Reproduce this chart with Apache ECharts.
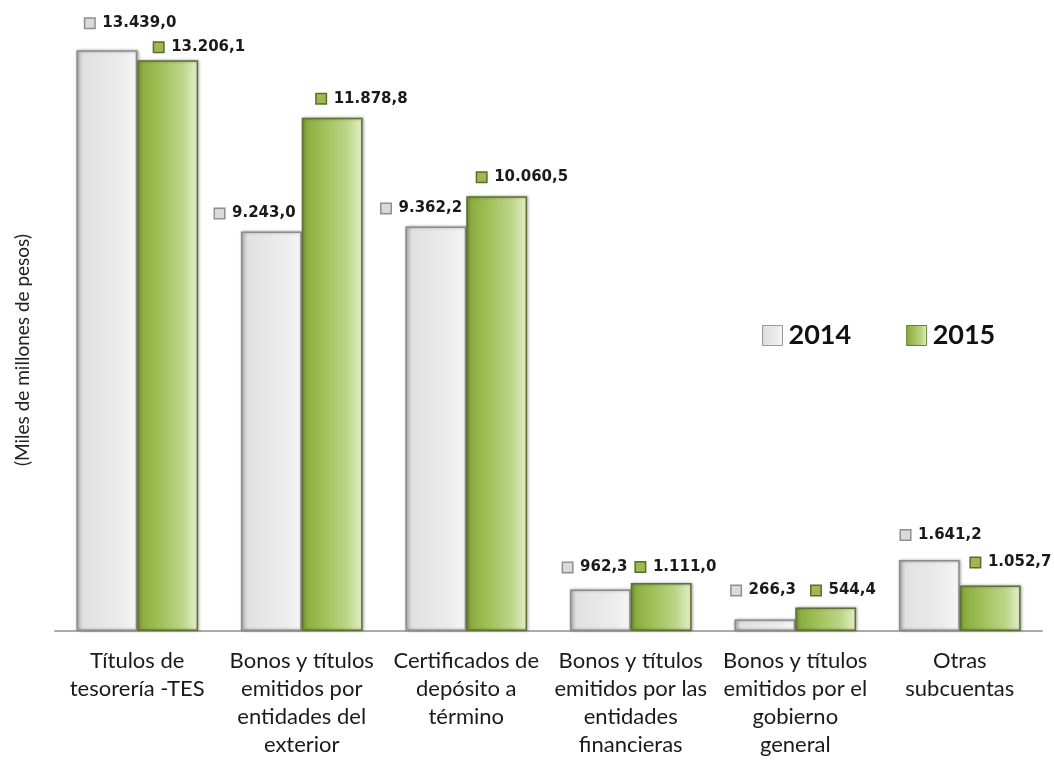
<html lang="es">
<head>
    <meta charset="UTF-8">
    <title>Inversiones</title>
    <script src="https://cdn.jsdelivr.net/npm/echarts@6/dist/echarts.min.js"></script>
    <style>
        body { margin: 0; background: #ffffff; }
        #container { width: 1054px; height: 764px; }
    </style>
</head>
<body>
<div id="container"></div>
<script>
    // categorias del eje x
    var categories = [
        'Títulos de\ntesorería -TES',
        'Bonos y títulos\nemitidos por\nentidades del\nexterior',
        'Certificados de\ndepósito a\ntérmino',
        'Bonos y títulos\nemitidos por las\nentidades\nfinancieras',
        'Bonos y títulos\nemitidos por el\ngobierno\ngeneral',
        'Otras\nsubcuentas'
    ];
    var seriesNames = ['2014', '2015'];
    var values2014 = [13439.0, 9243.0, 9362.2, 962.3, 266.3, 1641.2];
    var values2015 = [13206.1, 11878.8, 10060.5, 1111.0, 544.4, 1052.7];

    // desplazamiento de las etiquetas [dx, dy] respecto a la posicion 'top'
    var labelOffsets2014 = [[24, -18], [-16, -9], [-14, -9], [-5, -13], [-1, -20], [12, -16]];
    var labelOffsets2015 = [[32, -4], [30, -10], [26, -10], [15, -7], [18, -8], [21, -14]];

    function fmt(v) {
        var parts = v.toFixed(1).split('.');
        var ent = parts[0].replace(/\B(?=(\d{3})+(?!\d))/g, '.');
        return ent + ',' + parts[1];
    }

    var grayFill = new echarts.graphic.LinearGradient(0, 0, 1, 0, [
        {offset: 0, color: '#c4c4c4'},
        {offset: 0.12, color: '#e1e1e1'},
        {offset: 0.75, color: '#ededed'},
        {offset: 1, color: '#f7f7f7'}
    ]);
    var greenFill = new echarts.graphic.LinearGradient(0, 0, 1, 0, [
        {offset: 0, color: '#86a83a'},
        {offset: 0.35, color: '#9fc056'},
        {offset: 0.75, color: '#bcd68a'},
        {offset: 1, color: '#e6f0cc'}
    ]);

    var richStyle = {
        g: {width: 9, height: 9, backgroundColor: '#dadada', borderColor: '#8f8f8f', borderWidth: 1.5},
        v: {fontFamily: 'DejaVu Sans', fontWeight: 'bold', fontSize: 15, color: '#1a1a1a', padding: [0, 0, 0, 8]},
        gr: {width: 9, height: 9, backgroundColor: '#9cba4e', borderColor: '#5b6c30', borderWidth: 1.5}
    };

    function buildData(vals, offsets, icon) {
        var out = [];
        for (var i = 0; i < vals.length; i++) {
            out.push({
                value: vals[i],
                label: {
                    show: true,
                    position: 'top',
                    distance: 0,
                    offset: offsets[i],
                    formatter: '{' + icon + '|}{v|' + fmt(vals[i]) + '}',
                    lineHeight: 18,
                    rich: richStyle
                }
            });
        }
        return out;
    }

    var chart = echarts.init(document.getElementById('container'));
    var option = {
        backgroundColor: '#ffffff',
        animation: false,
        grid: {left: 55, right: 12, top: 26, height: 605},
        legend: {
            left: 762,
            top: 322,
            padding: 0,
            itemWidth: 20,
            itemHeight: 20,
            itemGap: 55,
            icon: 'rect',
            textStyle: {fontFamily: 'Lato', fontWeight: 'bold', fontSize: 27, color: '#111', padding: [0, 0, 0, 1]},
            data: [
                {name: seriesNames[0], itemStyle: {color: grayFill, borderColor: '#9a9a9a', borderWidth: 1}},
                {name: seriesNames[1], itemStyle: {color: greenFill, borderColor: '#6b7c3a', borderWidth: 1}}
            ]
        },
        xAxis: {
            type: 'category',
            data: categories,
            axisTick: {show: false},
            axisLine: {lineStyle: {color: '#ababab', width: 2}},
            axisLabel: {
                interval: 0,
                margin: 16,
                fontFamily: 'Lato',
                fontSize: 22,
                lineHeight: 28,
                color: '#1a1a1a'
            }
        },
        yAxis: {
            type: 'value',
            min: 0,
            max: 14000,
            axisLine: {show: false},
            axisTick: {show: false},
            axisLabel: {show: false},
            splitLine: {show: false}
        },
        graphic: [{
            type: 'text',
            left: 13,
            top: 234,
            rotation: Math.PI / 2,
            style: {
                text: '(Miles de millones de pesos)',
                font: '19px Lato',
                fill: '#222222'
            }
        }],
        series: [{
            name: seriesNames[0],
            type: 'bar',
            barGap: '0%',
            barCategoryGap: '26%',
            data: buildData(values2014, labelOffsets2014, 'g'),
            itemStyle: {
                color: grayFill,
                borderColor: '#8c8c8c',
                borderWidth: 1.5,
                shadowBlur: 3,
                shadowOffsetX: 1,
                shadowOffsetY: 0,
                shadowColor: 'rgba(0,0,0,0.35)'
            }
        }, {
            name: seriesNames[1],
            type: 'bar',
            barGap: '0%',
            barCategoryGap: '26%',
            data: buildData(values2015, labelOffsets2015, 'gr'),
            itemStyle: {
                color: greenFill,
                borderColor: '#5f7034',
                borderWidth: 1.5,
                shadowBlur: 3,
                shadowOffsetX: 1,
                shadowOffsetY: 0,
                shadowColor: 'rgba(0,0,0,0.35)'
            }
        }]
    };
    chart.setOption(option);
</script>
</body>
</html>
